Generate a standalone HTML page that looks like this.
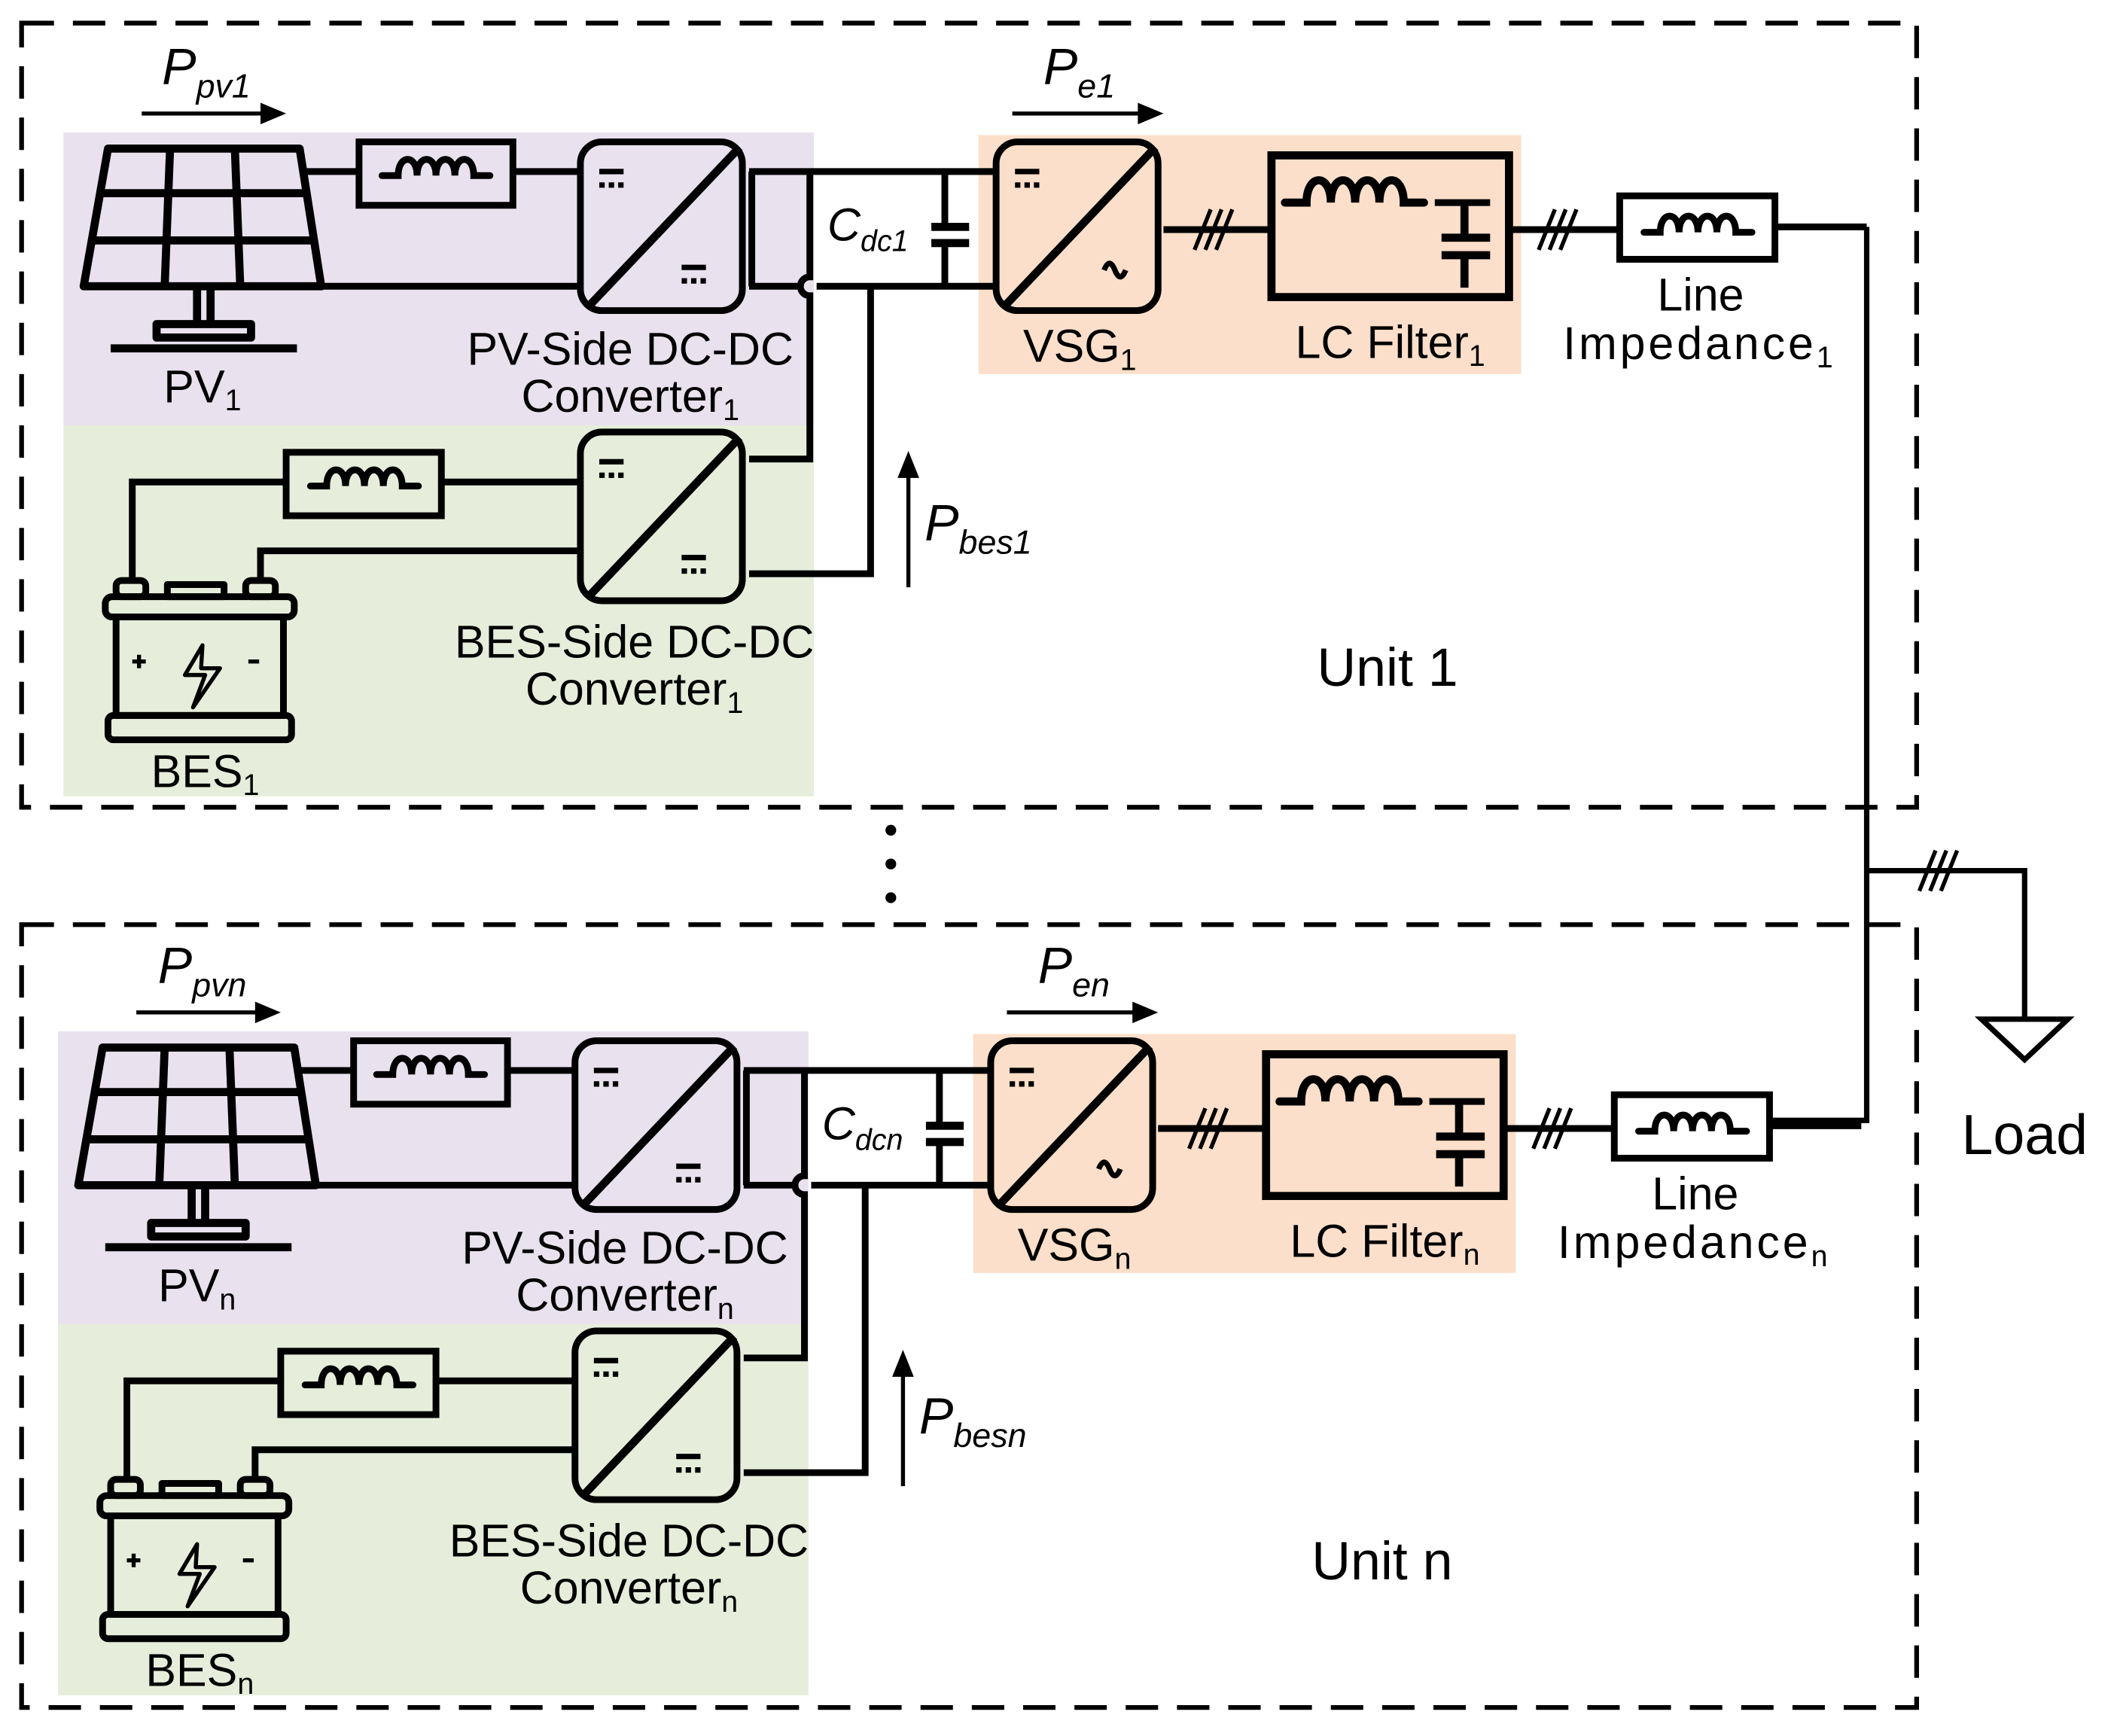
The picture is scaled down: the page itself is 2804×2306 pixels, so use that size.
<!DOCTYPE html>
<html><head><style>html,body{margin:0;padding:0;background:#fff}svg{display:block}</style></head>
<body>
<svg width="2804" height="2306" viewBox="0 0 1564 1286" xmlns="http://www.w3.org/2000/svg" font-family="Liberation Sans, sans-serif">
<defs>
<g id="ind"><path d="M-40,0 h12 c0,-16 14,-16 14,0 c0,-16 14,-16 14,0 c0,-16 14,-16 14,0 c0,-16 14,-16 14,0 h12" fill="none" stroke="#000" stroke-width="5" stroke-linecap="round"/></g>
<g id="conv" fill="none" stroke="#000" stroke-width="5">
<rect x="0" y="0" width="120" height="125" rx="16"/>
<line x1="118" y1="4" x2="6" y2="122" stroke-width="6"/>
<line x1="14" y1="22" x2="32" y2="22" stroke-width="4"/>
<path d="M14,32 h4 M21,32 h4 M28,32 h4" stroke-width="4"/>
</g>
<g id="unit">
<rect x="47" y="98" width="556" height="217" fill="#e9e1ee"/>
<rect x="47" y="315" width="556" height="275" fill="#e6eedb"/>
<rect x="725" y="100" width="402" height="177" fill="#fcdfca"/>
<g fill="none" stroke="#000" stroke-width="6" stroke-linejoin="round">
<path d="M80,110 H222 L238,212 H62 Z"/>
<path d="M74,143 H227 M68,178 H233 M126,110 L122,212 M174,110 L178,212"/>
<path d="M146,214 V240 M156,214 V240"/>
<rect x="116" y="240" width="70" height="10"/>
<path d="M82,258 H220"/>
</g>
<g fill="none" stroke="#000" stroke-width="5">
<path d="M225,127 H266 M380,127 H430 M238,212 H430"/>
<rect x="266" y="105" width="114" height="47"/>
</g>
<use href="#ind" x="323" y="130"/>
<use href="#conv" x="430" y="105"/>
<path d="M505,198 h18 M505,208 h4 M512,208 h4 M519,208 h4" stroke="#000" stroke-width="4"/>
<g fill="none" stroke="#000" stroke-width="5">
<path d="M555,127 H740 M555,212 H593 M605,212 H740 M557,127 V212"/>
<path d="M600,127 V205 A7,7 0 0 0 600,219 V340 H555"/>
<path d="M645,212 V425 H555"/>
<path d="M700,127 V168 M700,180 V212"/>
<path d="M690,168 H718 M690,180 H718" stroke-width="6"/>
</g>
<use href="#conv" x="738" y="105"/>
<path d="M818,200 q4,-10 8,0 t8,0" fill="none" stroke="#000" stroke-width="4"/>
<g fill="none" stroke="#000" stroke-width="5">
<path d="M862,170 H942 M1118,170 H1200 M1315,168 H1383"/>
<path d="M885,185 L897,155 M893,185 L905,155 M901,185 L913,155" stroke-width="3"/>
<path d="M1140,185 L1152,155 M1148,185 L1160,155 M1156,185 L1168,155" stroke-width="3"/>
<rect x="942" y="115" width="176" height="105" stroke-width="6"/>
<rect x="1200" y="145" width="115" height="47" stroke-width="5"/>
<path d="M1085,150 V175 M1085,190 V213 M1068,176 H1104 M1068,189 H1104" stroke-width="6"/>
<path d="M1063,150 H1104"/>
</g>
<path d="M952,150 h16 c0,-22 18,-22 18,0 c0,-22 18,-22 18,0 c0,-22 18,-22 18,0 c0,-22 18,-22 18,0 h15" fill="none" stroke="#000" stroke-width="6" stroke-linecap="round"/>
<use href="#ind" x="1258" y="172"/>
<g fill="none" stroke="#000" stroke-width="5">
<path d="M98,432 V357 H212 M327,357 H430 M193,432 V408 H430"/>
<rect x="212" y="335" width="115" height="47"/>
</g>
<use href="#ind" x="270" y="360"/>
<use href="#conv" x="430" y="320"/>
<path d="M505,413 h18 M505,423 h4 M512,423 h4 M519,423 h4" stroke="#000" stroke-width="4"/>
<g fill="none" stroke="#000" stroke-width="5" stroke-linejoin="round">
<rect x="86" y="430" width="22" height="12" rx="4"/>
<rect x="182" y="430" width="22" height="12" rx="4"/>
<rect x="124" y="433" width="42" height="9"/>
<rect x="78" y="442" width="140" height="15" rx="5"/>
<path d="M86,457 V530 H210 V457"/>
<rect x="80" y="530" width="136" height="18" rx="4"/>
<path d="M150,478 L137,500 H152 L143,524 L163,495 H149 Z" stroke-width="3"/>
<path d="M98,490 h10 M103,485 v10 M184,490 h8" stroke-width="3"/>
</g>
<path d="M105,84 H195" stroke="#000" stroke-width="3"/><path d="M193,76 L212,84 L193,92 Z"/>
<path d="M750,84 H845" stroke="#000" stroke-width="3"/><path d="M843,76 L862,84 L843,92 Z"/>
<path d="M673,435 V352" stroke="#000" stroke-width="3"/><path d="M665,354 L673,334 L681,354 Z"/>
</g>
</defs>

<rect x="16" y="17" width="1404" height="581" fill="none" stroke="#000" stroke-width="3.5" stroke-dasharray="24,14"/>
<rect x="16" y="685" width="1404" height="580" fill="none" stroke="#000" stroke-width="3.5" stroke-dasharray="24,14"/>

<use href="#unit"/>
<use href="#unit" x="-4" y="666"/>

<g fill="none" stroke="#000" stroke-width="4">
<path d="M1383,168 V830 H1311"/>
<path d="M1383,645 H1500 V755"/>
<path d="M1422,660 L1434,630 M1430,660 L1442,630 M1438,660 L1450,630" stroke-width="3"/>
<path d="M1468,755 H1532 L1500,785 Z"/>
</g>
<circle cx="660" cy="615" r="4"/><circle cx="660" cy="640" r="4"/><circle cx="660" cy="665" r="4"/>

<g font-size="34" fill="#000">
<text x="613" y="178" font-size="34" font-style="italic">C<tspan font-size="22" dy="8">dc1</tspan></text>
<text x="609" y="844" font-size="34" font-style="italic">C<tspan font-size="22" dy="8">dcn</tspan></text>
<text x="120" y="62" font-size="38" font-style="italic">P<tspan font-size="25" dy="10">pv1</tspan></text>
<text x="773" y="62" font-size="38" font-style="italic">P<tspan font-size="25" dy="10">e1</tspan></text>
<text x="685" y="400" font-size="38" font-style="italic">P<tspan font-size="25" dy="10">bes1</tspan></text>
<text x="117" y="728" font-size="38" font-style="italic">P<tspan font-size="25" dy="10">pvn</tspan></text>
<text x="769" y="728" font-size="38" font-style="italic">P<tspan font-size="25" dy="10">en</tspan></text>
<text x="681" y="1062" font-size="38" font-style="italic">P<tspan font-size="25" dy="10">besn</tspan></text>

<text x="150" y="298" text-anchor="middle">PV<tspan font-size="22" dy="6">1</tspan></text>
<text x="467" y="270" text-anchor="middle">PV-Side DC-DC</text>
<text x="467" y="305" text-anchor="middle">Converter<tspan font-size="22" dy="6">1</tspan></text>
<text x="470" y="487" text-anchor="middle">BES-Side DC-DC</text>
<text x="470" y="522" text-anchor="middle">Converter<tspan font-size="22" dy="6">1</tspan></text>
<text x="152" y="583" text-anchor="middle">BES<tspan font-size="22" dy="6">1</tspan></text>
<text x="800" y="268" text-anchor="middle">VSG<tspan font-size="22" dy="6">1</tspan></text>
<text x="1030" y="265" text-anchor="middle">LC Filter<tspan font-size="22" dy="6">1</tspan></text>
<text x="1260" y="230" text-anchor="middle">Line</text>
<text x="1258" y="266" text-anchor="middle" textLength="200">Impedance<tspan font-size="22" dy="6">1</tspan></text>
<text x="1028" y="508" text-anchor="middle" font-size="40">Unit 1</text>

<text x="146" y="964" text-anchor="middle">PV<tspan font-size="22" dy="6">n</tspan></text>
<text x="463" y="936" text-anchor="middle">PV-Side DC-DC</text>
<text x="463" y="971" text-anchor="middle">Converter<tspan font-size="22" dy="6">n</tspan></text>
<text x="466" y="1153" text-anchor="middle">BES-Side DC-DC</text>
<text x="466" y="1188" text-anchor="middle">Converter<tspan font-size="22" dy="6">n</tspan></text>
<text x="148" y="1249" text-anchor="middle">BES<tspan font-size="22" dy="6">n</tspan></text>
<text x="796" y="934" text-anchor="middle">VSG<tspan font-size="22" dy="6">n</tspan></text>
<text x="1026" y="931" text-anchor="middle">LC Filter<tspan font-size="22" dy="6">n</tspan></text>
<text x="1256" y="896" text-anchor="middle">Line</text>
<text x="1254" y="932" text-anchor="middle" textLength="200">Impedance<tspan font-size="22" dy="6">n</tspan></text>
<text x="1024" y="1170" text-anchor="middle" font-size="40">Unit n</text>
<text x="1500" y="855" text-anchor="middle" font-size="42">Load</text>
</g>
</svg>
</body></html>
